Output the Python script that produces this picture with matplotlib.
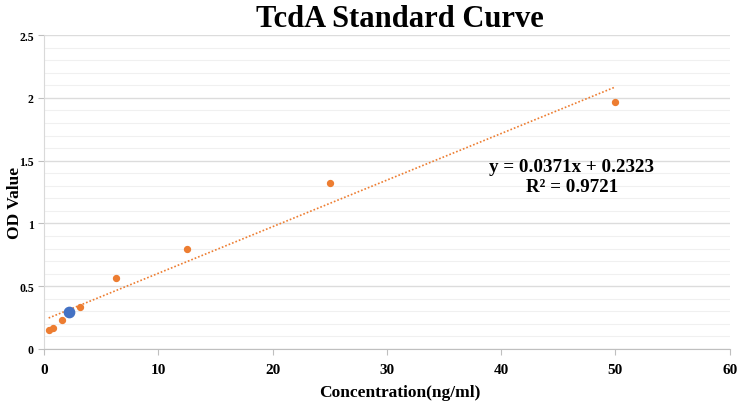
import matplotlib.pyplot as plt
import matplotlib.ticker as mticker
import numpy as np

# standard curve points
conc = [0.39, 0.78, 1.5625, 3.125, 6.25, 12.5, 25, 50]
od = [0.154, 0.17, 0.228, 0.334, 0.565, 0.80, 1.32, 1.97]
# sample point
sample_conc = [2.2]
sample_od = [0.295]
slope, intercept = 0.0371, 0.2323

plt.rcParams['font.family'] = ['Liberation Serif', 'DejaVu Serif']
plt.rcParams['font.weight'] = 'bold'

fig = plt.figure(figsize=(7.37, 4.06), dpi=100)
ax = fig.add_axes([0.060, 0.138, 0.930, 0.773])

ax.set_xlim(0, 60)
ax.set_ylim(0, 2.5)
ax.yaxis.set_major_locator(mticker.MultipleLocator(0.5))
ax.yaxis.set_minor_locator(mticker.MultipleLocator(0.1))
ax.xaxis.set_major_locator(mticker.MultipleLocator(10))
ax.yaxis.set_major_formatter(mticker.FuncFormatter(lambda v, p: f'{v:g}'))

ax.grid(axis='y', which='major', color='#dcdcdc', lw=1.0)
ax.grid(axis='y', which='minor', color='#f0f0f0', lw=0.8)
ax.set_axisbelow(True)

for s in ['top', 'right']:
    ax.spines[s].set_visible(False)
ax.spines['left'].set_color('#d9d9d9')
ax.spines['bottom'].set_color('#bfbfbf')
ax.tick_params(axis='both', which='major', length=4, color='#bfbfbf')
ax.tick_params(axis='y', labelsize=8.5)
ax.tick_params(axis='x', labelsize=11, pad=6)
ax.tick_params(axis='y', which='minor', length=0)

xs = np.array([conc[0], conc[-1]])
ax.plot(xs, slope * xs + intercept, color='#ED7D31', lw=1.2, ls=(0, (1, 1.2)), zorder=2)
ax.scatter(conc, od, s=18, color='#ED7D31', zorder=3)
ax.scatter(sample_conc, sample_od, s=55, color='#4472C4', zorder=4)

fig.text(0.543, 0.952, 'TcdA Standard Curve', ha='center', va='center', fontsize=22, fontweight='bold')
fig.text(0.02, 0.50, 'OD Value', ha='center', va='center', rotation=90, fontsize=12.5, fontweight='bold')
fig.text(0.543, 0.032, 'Concentration(ng/ml)', ha='center', va='center', fontsize=12.5, fontweight='bold')
fig.text(0.776, 0.588, 'y = 0.0371x + 0.2323', ha='center', va='center', fontsize=13.7, fontweight='bold')
fig.text(0.776, 0.538, 'R² = 0.9721', ha='center', va='center', fontsize=13.7, fontweight='bold')

fig.savefig('out.png', dpi=100)
